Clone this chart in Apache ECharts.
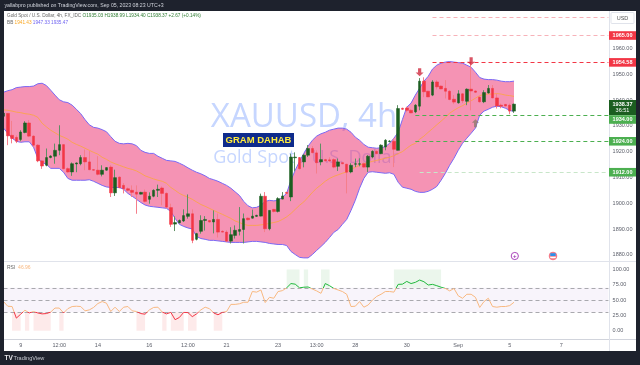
<!DOCTYPE html>
<html><head><meta charset="utf-8">
<style>html,body{margin:0;padding:0;background:#fff}#c{width:640px;height:365px}</style>
<script src="https://cdn.jsdelivr.net/npm/echarts@6/dist/echarts.min.js"></script>
</head><body><div id="c"></div>
<script>
const opens=[1933.7,1934.8,1926.3,1925.5,1924.7,1927.4,1931.1,1926.0,1922.5,1916.4,
1914.7,1917.7,1918.2,1920.5,1922.7,1913.4,1912.1,1915.2,1915.3,1917.7,
1916.0,1913.0,1912.8,1911.2,1912.8,1914.0,1904.0,1910.1,1906.9,1905.6,
1905.0,1904.3,1903.5,1904.3,1901.5,1902.7,1905.0,1905.9,1903.8,1898.3,
1891.9,1892.4,1893.1,1894.9,1895.9,1886.0,1889.1,1893.3,1893.3,1892.7,
1893.7,1889.1,1888.8,1885.3,1887.5,1889.1,1889.8,1894.2,1894.2,1894.9,
1895.0,1902.7,1890.1,1897.6,1896.8,1901.6,1904.2,1902.4,1917.6,1917.7,
1916.0,1918.6,1921.2,1919.5,1916.0,1916.9,1916.8,1916.9,1914.3,1915.7,
1915.1,1912.1,1915.1,1915.1,1915.3,1914.0,1917.9,1920.1,1919.2,1921.8,
1923.9,1924.0,1920.5,1936.8,1936.9,1936.0,1935.4,1937.6,1947.3,1943.4,
1941.9,1947.0,1945.4,1944.5,1943.4,1940.3,1938.9,1942.4,1939.5,1944.2,
1943.5,1941.1,1939.3,1942.7,1944.5,1940.8,1938.0,1938.3,1938.0,1935.7];
const closes=[1934.9,1926.1,1925.1,1924.0,1927.6,1931.1,1926.0,1922.5,1916.4,1914.4,
1917.7,1918.3,1920.5,1922.7,1913.4,1912.1,1915.3,1915.6,1917.7,1916.0,
1913.0,1912.8,1911.2,1912.8,1913.8,1904.0,1909.9,1906.0,1905.6,1905.0,
1904.2,1903.5,1904.2,1900.7,1902.7,1905.0,1905.4,1903.8,1898.5,1891.8,
1892.5,1893.3,1895.2,1895.9,1885.6,1888.2,1893.3,1893.7,1892.7,1893.7,
1888.8,1888.8,1885.3,1887.8,1889.5,1889.8,1894.0,1893.6,1895.0,1895.3,
1902.7,1890.1,1897.2,1896.8,1901.8,1902.8,1903.8,1917.9,1917.9,1913.4,
1918.6,1921.2,1919.6,1915.7,1916.9,1916.4,1916.4,1914.0,1916.0,1915.3,
1912.0,1914.7,1915.3,1915.3,1914.0,1918.2,1920.1,1919.2,1922.5,1924.4,
1924.1,1920.9,1936.7,1936.4,1936.0,1935.0,1938.0,1947.3,1943.2,1941.2,
1947.0,1945.1,1944.3,1943.4,1940.2,1939.2,1942.4,1939.7,1944.2,1943.5,
1943.0,1939.3,1942.9,1944.5,1940.8,1937.7,1937.6,1937.7,1935.7,1938.4];
const lows=[1933.7,1922.5,1923.2,1923.3,1924.0,1927.1,1925.6,1921.8,1915.9,1913.3,
1914.3,1917.4,1915.3,1918.6,1913.1,1911.8,1910.6,1912.0,1914.7,1912.8,
1912.8,1912.6,1910.8,1910.4,1912.6,1902.4,1902.8,1905.8,1903.8,1904.6,
1902.4,1895.9,1903.4,1900.3,1899.8,1902.3,1902.4,1899.2,1898.0,1890.8,
1889.2,1892.2,1892.7,1894.0,1884.5,1885.6,1888.2,1889.4,1892.5,1888.3,
1886.7,1888.7,1884.9,1884.4,1886.3,1887.5,1884.4,1893.3,1894.0,1894.7,
1894.9,1888.8,1889.5,1896.4,1896.4,1901.5,1903.6,1900.8,1912.4,1913.0,
1913.9,1917.9,1919.3,1911.5,1914.7,1916.2,1916.0,1913.5,1912.5,1915.1,
1903.8,1911.6,1914.0,1914.3,1913.8,1912.1,1917.4,1919.0,1919.0,1920.5,
1923.6,1914.0,1920.5,1936.2,1935.3,1934.9,1934.9,1936.0,1941.1,1941.2,
1941.5,1944.1,1944.2,1940.6,1939.9,1938.4,1938.6,1938.8,1938.0,1936.0,
1942.7,1939.0,1938.8,1942.5,1940.7,1936.7,1936.8,1937.6,1934.5,1935.0];
const highs=[1934.9,1934.9,1931.9,1926.3,1928.3,1931.8,1932.2,1926.3,1922.9,1916.6,
1921.2,1918.6,1923.1,1930.2,1922.8,1913.9,1915.8,1915.8,1918.6,1920.8,
1920.2,1913.1,1918.2,1914.7,1913.9,1914.7,1913.0,1910.4,1907.8,1906.1,
1906.9,1906.9,1904.4,1905.3,1904.2,1905.4,1907.2,1906.5,1904.2,1899.8,
1894.9,1893.7,1897.6,1903.4,1897.6,1888.5,1895.3,1895.0,1893.5,1897.2,
1896.0,1889.5,1889.5,1890.7,1891.4,1898.5,1896.0,1894.5,1897.5,1895.5,
1903.7,1904.3,1897.2,1897.8,1902.3,1904.3,1904.4,1919.2,1919.7,1917.9,
1919.0,1922.5,1922.1,1920.5,1923.1,1917.2,1917.8,1917.4,1917.3,1915.8,
1915.3,1915.5,1917.3,1917.4,1915.8,1918.7,1920.5,1920.5,1922.8,1924.8,
1924.4,1925.1,1938.0,1937.0,1937.4,1936.4,1938.4,1948.5,1948.8,1943.4,
1947.7,1947.7,1945.6,1947.7,1943.8,1941.9,1943.8,1942.7,1944.5,1954.8,
1943.7,1941.4,1943.8,1945.8,1945.8,1942.5,1938.6,1938.4,1938.6,1938.6];
const bandUpper=[1943.0,1943.6,1944.0,1944.8,1945.0,1945.2,1945.2,1945.4,1946.3,1946.5,
1945.6,1943.8,1941.9,1940.1,1939.3,1939.0,1938.0,1936.4,1934.7,1932.4,
1930.4,1929.4,1929.1,1928.5,1927.7,1925.8,1924.0,1923.2,1923.0,1923.2,
1923.0,1922.3,1920.5,1919.7,1919.3,1919.3,1918.2,1917.4,1916.6,1916.4,
1916.2,1915.5,1914.7,1913.7,1912.8,1912.0,1911.4,1910.6,1909.6,1909.1,
1908.5,1907.7,1906.9,1905.8,1904.4,1903.0,1900.7,1899.0,1898.2,1898.4,
1899.2,1900.7,1901.1,1900.9,1901.1,1902.3,1903.8,1908.9,1912.8,1916.2,
1919.3,1922.1,1924.4,1926.0,1926.9,1927.5,1928.3,1928.7,1929.1,1929.1,
1928.7,1927.5,1925.6,1924.4,1922.8,1921.7,1921.5,1921.3,1921.5,1921.9,
1923.2,1925.2,1927.5,1932.5,1937.2,1938.8,1941.9,1944.6,1947.3,1949.2,
1952.0,1953.5,1954.3,1954.7,1954.9,1954.7,1954.5,1954.3,1953.5,1952.7,
1950.8,1948.7,1948.1,1947.9,1947.9,1947.7,1947.3,1947.1,1947.1,1947.3];
const bandLower=[1929.1,1927.1,1925.2,1924.0,1923.6,1923.8,1923.8,1921.7,1917.4,1915.8,
1915.1,1913.5,1913.5,1913.5,1912.0,1909.6,1908.9,1908.9,1908.9,1908.9,
1909.1,1908.5,1907.7,1906.9,1906.3,1906.1,1906.1,1906.1,1905.4,1903.8,
1902.7,1901.5,1900.3,1899.3,1898.8,1898.6,1898.4,1898.2,1898.0,1896.8,
1894.1,1891.8,1891.0,1890.4,1890.0,1887.1,1886.3,1886.0,1885.6,1885.6,
1885.4,1885.2,1885.0,1884.8,1884.8,1884.8,1884.8,1885.0,1885.2,1885.2,
1885.0,1884.8,1884.4,1884.2,1884.0,1884.0,1883.6,1881.3,1880.1,1879.0,
1878.8,1878.8,1880.1,1881.7,1883.2,1884.8,1886.7,1888.7,1889.8,1891.8,
1893.7,1897.2,1901.1,1905.8,1909.6,1912.0,1912.2,1912.0,1911.8,1911.6,
1911.8,1911.2,1908.1,1906.2,1905.8,1905.4,1904.6,1904.2,1904.2,1904.6,
1905.4,1906.5,1908.9,1911.6,1914.7,1917.4,1920.5,1923.2,1925.2,1927.1,
1929.1,1934.1,1935.7,1936.4,1937.2,1937.6,1937.4,1936.8,1936.0,1935.5];
const bandBasis=[1936.2,1936.0,1935.7,1935.3,1935.1,1934.7,1934.5,1934.1,1933.3,1931.0,
1929.6,1928.3,1927.3,1926.3,1925.6,1924.8,1923.6,1922.8,1922.1,1921.3,
1920.5,1919.7,1919.0,1917.8,1917.0,1916.0,1915.3,1914.7,1914.1,1913.5,
1913.1,1912.5,1911.6,1910.6,1910.0,1909.4,1908.9,1908.5,1907.7,1906.1,
1905.0,1903.8,1903.0,1902.3,1901.5,1900.5,1899.5,1898.8,1898.0,1897.2,
1896.4,1895.7,1894.9,1894.1,1893.1,1892.5,1891.8,1891.4,1891.4,1891.4,
1891.6,1891.8,1892.2,1892.5,1892.9,1893.7,1894.7,1896.0,1897.6,1899.2,
1900.5,1902.3,1904.2,1905.8,1907.1,1908.5,1909.6,1910.4,1911.0,1911.6,
1912.2,1913.1,1913.9,1914.7,1915.3,1915.8,1916.2,1916.6,1917.0,1917.4,
1917.8,1918.4,1919.2,1920.0,1921.3,1922.5,1923.2,1924.8,1926.0,1927.5,
1928.9,1930.4,1931.8,1933.3,1934.9,1936.0,1937.0,1937.8,1938.8,1939.7,
1940.7,1941.7,1942.1,1942.3,1942.3,1942.5,1942.3,1941.9,1941.7,1941.4];
const rsiValues=[47.6,40,39.5,20.6,27,33.5,29,31.4,29,27.5,
28,30.5,37,37,29,36,39.5,40,39.5,32.5,
34,38,44.4,47.6,45,31.4,38.4,31.4,38.4,39.5,
32.5,31.4,28,27,34,38,38.4,30.5,27.5,30,
18,21.7,30,29.5,23,27.5,34,38.4,36,29,
26,30,31.4,43,43,44,46.5,46.5,64,63,
66.5,46,54.6,53,64,65.4,70,77,76,70,
71,71.4,68,65,61,77,73.5,69,66.5,64,
59.5,39.5,40,47.6,38.4,42,50,56,59.5,64,
64,63,75.7,76,80.5,77,79,82.7,80,74.6,
75.7,73.5,71,69,65,69,57,53,59.5,59.5,
54.6,38,47.6,53,39.5,38.4,39.5,39.5,41,46.5];
const slotCount=142;
const tickSlots=[4,13,22,34,43,52,64,73,82,94,106,118,130];
const tickTexts=['9','12:00','14','16','12:00','21','23','13:00','28','30','Sep','5','7'];
const priceTicks=[1880,1890,1900,1910,1920,1930,1940,1950,1960,1970];
const rsiTicks=[0,25,50,75,100];
const oversoldZones=[[2,4],[5,6],[7,11],[13,14],[31,33],[37,38],[39,42],[43,45],[49,51]];
const overboughtZones=[[66,69],[70,71],[74,76],[91,102]];
const levelPrices=[1972,1965,1954.58,1934,1924,1912];
const levelStarts=[100,100,100,96,96,97];
const levelColors=['#f7b2b9','#f7b2b9','#f23645','#4caf50','#4caf50','#c8e6c9'];
const levelTags=['','1965.00','1954.58','1934.00','1924.00','1912.00'];
const tagColors=['','#f23645','#f23645','#4caf50','#4caf50','#4caf50'];
const tagShifts=[0,0,0,4,0,0];
const downArrowSlots=[97,109];
const downArrowPrices=[1950.8,1955];
const upArrowSlots=[110];
const upArrowPrices=[1931];

const categories=Array.from({length:slotCount},(_,i)=>{const k=tickSlots.indexOf(i);return k>=0?tickTexts[k]:''});
const slots=opens.map((_,i)=>i);
const FONT='"Liberation Sans",Arial,sans-serif';
const DARK='#1e222d';
const GL=1.355,GW=609.2;
const arrowPath='path://M3,0 H7 V6 H10 L5,11 L0,6 H3 Z';

function txt(x,y,t,o){return {type:'text',x,y,z:(o&&o.z)||60,silent:true,style:Object.assign({text:t,fontFamily:FONT,fontSize:5,fill:'#555',verticalAlign:'middle',align:'left'},o||{})}}
const bar=[
 {type:'rect',z:90,silent:true,shape:{x:0,y:0,width:640,height:11},style:{fill:DARK}},
 {type:'rect',z:90,silent:true,shape:{x:0,y:351,width:640,height:14},style:{fill:DARK}},
 {type:'rect',z:90,silent:true,shape:{x:0,y:0,width:4,height:365},style:{fill:DARK}},
 {type:'rect',z:90,silent:true,shape:{x:636,y:0,width:4,height:365},style:{fill:DARK}},
 {type:'rect',z:70,silent:true,shape:{x:609,y:261,width:27,height:1},style:{fill:'#e0e3eb'}},
 {type:'rect',z:70,silent:true,shape:{x:609,y:339,width:27,height:1},style:{fill:'#d1d4dc'}},
 {type:'rect',z:70,silent:true,shape:{x:609,y:339,width:1,height:12},style:{fill:'#e0e3eb'}}
];
const option={
 animation:false,backgroundColor:'#ffffff',
 grid:[{left:GL,width:GW,top:11,height:250.5},{left:GL,width:GW,top:261.5,height:77.8}],
 xAxis:[
  {type:'category',gridIndex:0,data:categories,axisTick:{show:false},axisLabel:{show:false},axisLine:{onZero:false,lineStyle:{color:'#e0e3eb',width:1}},splitLine:{show:false}},
  {type:'category',gridIndex:1,data:categories,axisTick:{show:false},axisLine:{onZero:false,lineStyle:{color:'#d1d4dc',width:1}},splitLine:{show:false},
   axisLabel:{interval:0,color:'#5d606b',fontSize:5.5,fontFamily:FONT,margin:3,hideOverlap:false}}
 ],
 yAxis:[
  {type:'value',gridIndex:0,position:'right',offset:-1.55,min:1877.4,max:1974.5,splitLine:{show:false},axisTick:{show:false},
   axisLine:{show:true,lineStyle:{color:'#e0e3eb'}},axisLabel:{customValues:priceTicks,formatter:v=>v.toFixed(2),color:'#5d606b',fontSize:5.5,fontFamily:FONT,margin:3.6}},
  {type:'value',gridIndex:1,position:'right',offset:-1.55,min:-14,max:113,splitLine:{show:false},axisTick:{show:false},
   axisLine:{show:true,lineStyle:{color:'#e0e3eb'}},axisLabel:{customValues:rsiTicks,formatter:v=>v.toFixed(2),color:'#5d606b',fontSize:5.5,fontFamily:FONT,margin:3.6}}
 ],
 visualMap:[{show:false,type:'piecewise',seriesIndex:10,dimension:1,pieces:[{lte:30,color:'#f23645'},{gt:30,lte:70,color:'#f8b880'},{gt:70,color:'#1fb83b'}]}],
 series:[
  {name:'levels',type:'line',xAxisIndex:0,yAxisIndex:0,z:1,data:[],silent:true,
   markLine:{silent:true,symbol:'none',animation:false,data:levelPrices.map((p,k)=>[
     {coord:[levelStarts[k],p],lineStyle:{color:levelColors[k],type:[4,3],width:1},label:{show:false}},
     {coord:[slotCount-1,p]}])}},
  {name:'band',type:'custom',xAxisIndex:0,yAxisIndex:0,z:2,silent:true,clip:true,data:slots,
   renderItem(params,api){
     if(params.dataIndex!==0) return null;
     const pts=[];
     slots.forEach(i=>pts.push(api.coord([i,bandUpper[i]])));
     slots.slice().reverse().forEach(i=>pts.push(api.coord([i,bandLower[i]])));
     return {type:'polygon',shape:{points:pts},style:{fill:'rgba(235,30,99,0.48)'}};
   }},
  {name:'upper',type:'line',xAxisIndex:0,yAxisIndex:0,z:3,data:bandUpper,showSymbol:false,lineStyle:{color:'#7a68f5',width:1}},
  {name:'lower',type:'line',xAxisIndex:0,yAxisIndex:0,z:3,data:bandLower,showSymbol:false,lineStyle:{color:'#7a68f5',width:1}},
  {name:'basis',type:'line',xAxisIndex:0,yAxisIndex:0,z:3,data:bandBasis,showSymbol:false,lineStyle:{color:'#fba63c',width:0.8}},
  {name:'wicks',type:'candlestick',xAxisIndex:0,yAxisIndex:0,z:4,barWidth:1,silent:true,
   data:slots.map(i=>[opens[i],closes[i],lows[i],highs[i]]),
   itemStyle:{color:'#5f8f64',color0:'#f57f8c',borderColor:'#5f8f64',borderColor0:'#f57f8c',borderWidth:1}},
  {name:'bodies',type:'candlestick',xAxisIndex:0,yAxisIndex:0,z:5,barWidth:3,silent:true,
   data:slots.map(i=>[opens[i],closes[i],Math.min(opens[i],closes[i]),Math.max(opens[i],closes[i])]),
   itemStyle:{color:'#1b5e20',color0:'#f23645',borderColor:'#1b5e20',borderColor0:'#f23645',borderWidth:0.5}},
  {name:'downMarks',type:'scatter',xAxisIndex:0,yAxisIndex:0,z:6,silent:true,symbol:arrowPath,symbolSize:[8,8],
   data:downArrowSlots.map((s,k)=>[s,downArrowPrices[k]]),itemStyle:{color:'#cf2b3e'}},
  {name:'upMarks',type:'scatter',xAxisIndex:0,yAxisIndex:0,z:6,silent:true,symbol:arrowPath,symbolRotate:180,symbolSize:[7,8],
   data:upArrowSlots.map((s,k)=>[s,upArrowPrices[k]]),itemStyle:{color:'#8f7a6c'}},
  {name:'tags',type:'line',xAxisIndex:0,yAxisIndex:0,z:20,data:[],silent:true,
   markPoint:{silent:true,animation:false,data:levelPrices.map((p,k)=>k===0?null:{
     coord:[slotCount-1,p],symbol:'rect',symbolSize:[27,8.6],symbolOffset:[14.1,tagShifts[k]],itemStyle:{color:tagColors[k]},
     label:{show:true,position:'inside',formatter:levelTags[k],color:'#fff',fontFamily:FONT,fontSize:5.5,fontWeight:'bold'}}).filter(Boolean)}},
  {name:'RSI',type:'line',xAxisIndex:1,yAxisIndex:1,z:5,data:rsiValues,showSymbol:false,lineStyle:{width:1}},
  {name:'rsiZones',type:'line',xAxisIndex:1,yAxisIndex:1,z:1,data:rsiValues,showSymbol:false,silent:true,lineStyle:{opacity:0},
   markArea:{silent:true,data:[
     [{coord:[0,30],itemStyle:{color:'#f8f4fb'}},{coord:[slotCount-1,70]}],
     ...oversoldZones.map(z=>[{coord:[z[0],30],itemStyle:{color:'#fdeaea'}},{coord:[z[1],0]}]),
     ...overboughtZones.map(z=>[{coord:[z[0],100],itemStyle:{color:'#ebf6ec'}},{coord:[z[1],70]}])
   ]},
   markLine:{silent:true,symbol:'none',animation:false,data:[30,50,70].map(v=>[
     {coord:[0,v],lineStyle:{color:'#a9a9ae',type:[4,3],width:1},label:{show:false}},{coord:[slotCount-1,v]}])}}
 ],
 graphic:{elements:[
  {type:'text',x:304,y:118,z:0,silent:true,style:{text:'XAUUSD, 4h',fontFamily:'"Open Sans",sans-serif',fontSize:33,fill:'#c6d6ff',align:'center',verticalAlign:'middle'}},
  {type:'text',x:306,y:158,z:0,silent:true,style:{text:'Gold Spot / U.S. Dollar',fontFamily:'"Open Sans",sans-serif',fontSize:18,fill:'#c6d6ff',align:'center',verticalAlign:'middle'}},
  {type:'rect',z:50,silent:true,shape:{x:223,y:133,width:71,height:14},style:{fill:'#0e2b8c'}},
  {type:'text',x:258.5,y:140,z:51,silent:true,style:{text:'GRAM DAHAB',fontFamily:FONT,fontWeight:'bold',fontSize:9.5,fill:'#ffeb3b',align:'center',verticalAlign:'middle'}},
  ...bar,
  txt(4.5,6,'yallabpro published on TradingView.com, Sep 05, 2023 08:23 UTC+3',{z:95,fill:'#d1d4dc',fontSize:5.2}),
  {type:'text',x:7,y:16,z:60,silent:true,style:{fontFamily:FONT,fontSize:4.7,verticalAlign:'middle',
    text:'{g|Gold Spot / U.S. Dollar, 4h, FX_IDC} {v|O1935.03 H1938.99 L1934.40 C1938.37 +2.67 (+0.14%)}',
    rich:{g:{fill:'#666',fontSize:4.7,fontFamily:FONT},v:{fill:'#2e7d32',fontSize:4.7,fontFamily:FONT}}}},
  {type:'text',x:7,y:23,z:60,silent:true,style:{fontFamily:FONT,fontSize:4.7,verticalAlign:'middle',
    text:'{g|BB} {o|1941.43} {b|1947.33} {b|1935.47}',
    rich:{g:{fill:'#666',fontSize:4.7,fontFamily:FONT},o:{fill:'#f9a825',fontSize:4.7,fontFamily:FONT},b:{fill:'#6f63f0',fontSize:4.7,fontFamily:FONT}}}},
  {type:'text',x:7,y:267.5,z:60,silent:true,style:{fontFamily:FONT,fontSize:5,verticalAlign:'middle',
    text:'{g|RSI}  {o|46.96}',rich:{g:{fill:'#666',fontSize:5,fontFamily:FONT},o:{fill:'#f8b880',fontSize:5,fontFamily:FONT}}}},
  {type:'rect',z:60,silent:true,shape:{x:611,y:12.5,width:23,height:11,r:1},style:{fill:'#fff',stroke:'#e0e3eb',lineWidth:1}},
  txt(622.5,18,'USD',{z:61,align:'center',fill:'#555',fontSize:5.5}),
  {type:'rect',z:60,silent:true,shape:{x:609,y:100,width:27,height:15},style:{fill:'#1b5e20'}},
  txt(622.5,104,'1938.37',{z:61,align:'center',fill:'#fff',fontSize:5.5,fontWeight:'bold'}),
  txt(622.5,110.7,'36:51',{z:61,align:'center',fill:'#fff',fontSize:5.5}),
  {type:'circle',z:60,silent:true,shape:{cx:514.8,cy:256,r:3.6},style:{fill:'#fff',stroke:'#ab47bc',lineWidth:1}},
  txt(514.8,256,'+',{z:61,align:'center',fill:'#9c27b0',fontSize:6,fontWeight:'bold'}),
  {type:'circle',z:60,silent:true,shape:{cx:553,cy:256,r:3.8},style:{fill:'#f8a0a8',stroke:'#f4717f',lineWidth:1}},
  {type:'rect',z:61,silent:true,shape:{x:550.3,y:253.2,width:5.4,height:2.8},style:{fill:'#2f8fe8'}},
  {type:'rect',z:61,silent:true,shape:{x:550.3,y:257,width:5.4,height:1},style:{fill:'#fff'}},
  txt(4.5,358,'TV',{z:95,fill:'#e8e8ec',fontSize:6.5,fontWeight:'bold'}),
  txt(13.5,358,'TradingView',{z:95,fill:'#c9ccd4',fontSize:5.6})
 ]}
};
echarts.init(document.getElementById('c'),null,{renderer:'canvas'}).setOption(option);
</script></body></html>
